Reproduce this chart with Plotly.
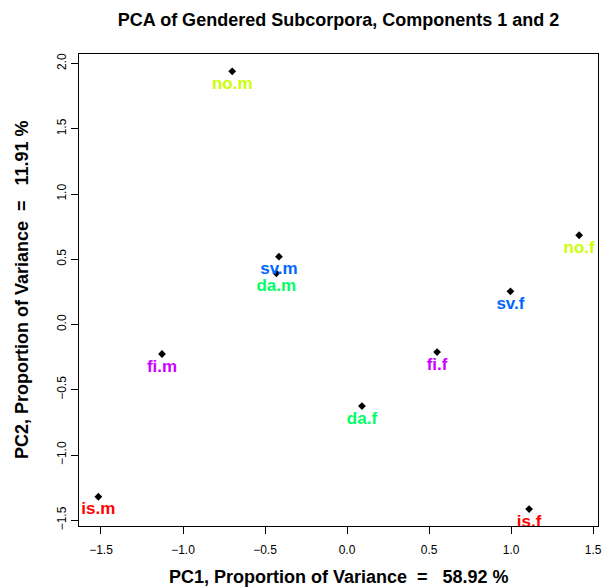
import plotly.graph_objects as go

labels = ["no.m", "no.f", "sv.m", "sv.f", "da.m", "da.f", "fi.m", "fi.f", "is.m", "is.f"]
pc1 = [-0.70, 1.415, -0.415, 0.996, -0.431, 0.091, -1.128, 0.549, -1.516, 1.110]
pc2 = [1.94, 0.684, 0.52, 0.254, 0.392, -0.625, -0.226, -0.211, -1.320, -1.414]
colors = ["#CCFF00", "#CCFF00", "#0066FF", "#0066FF", "#00FF66", "#00FF66",
          "#CC00FF", "#CC00FF", "#FF0000", "#FF0000"]
x_ticks = [-1.5, -1.0, -0.5, 0.0, 0.5, 1.0, 1.5]
y_ticks = [-1.5, -1.0, -0.5, 0.0, 0.5, 1.0, 1.5, 2.0]

W, H = 602, 588
L, R, T, B = 79, 4, 54, 62
PW, PH = W - L - R, H - T - B
font_family = "Liberation Sans, Arial, sans-serif"
NB = "\u00a0"


def tick_text(v):
    return f"{v:.1f}".replace("-", "\u2212")


fig = go.Figure()
fig.add_trace(go.Scatter(
    x=pc1, y=pc2, mode="markers+text", text=labels,
    textposition="bottom center",
    textfont=dict(family=font_family, size=17, color=colors, weight="bold"),
    marker=dict(symbol="diamond", size=6, color="black", line=dict(width=0)),
    cliponaxis=True, showlegend=False, hoverinfo="skip",
))

plot_cx = (L + (W - R)) / 2 / W

fig.update_layout(
    width=W, height=H,
    margin=dict(l=L, r=R, t=T, b=B, autoexpand=False),
    paper_bgcolor="white", plot_bgcolor="white",
    title=dict(text="<b>PCA of Gendered Subcorpora, Components 1 and 2</b>",
               x=plot_cx, xanchor="center", y=1 - 20 / H, yanchor="middle",
               font=dict(family=font_family, size=18, color="black")),
    font=dict(family=font_family, color="black"),
    annotations=[
        dict(text=f"<b>PC1, Proportion of Variance{NB}{NB}={NB}{NB}{NB}58.92 %</b>",
             xref="paper", yref="paper", x=0.5, y=(H - B - 577) / PH,
             xanchor="center", yanchor="middle", showarrow=False,
             font=dict(family=font_family, size=18, color="black")),
        dict(text=f"<b>PC2, Proportion of Variance{NB}{NB}={NB}{NB}{NB}11.91 %</b>",
             xref="paper", yref="paper", x=(22 - L) / PW, y=0.5,
             xanchor="center", yanchor="middle", showarrow=False, textangle=-90,
             font=dict(family=font_family, size=18, color="black")),
    ],
)
fig.update_xaxes(
    range=[-1.634, 1.530], tickvals=x_ticks, ticktext=[tick_text(v) for v in x_ticks],
    ticks="outside", ticklen=7, tickcolor="black", tickwidth=1,
    showline=True, linecolor="black", linewidth=1, mirror=True,
    showgrid=False, zeroline=False, automargin=False, ticklabelstandoff=6,
    tickfont=dict(size=12, color="black"),
)
fig.update_yaxes(
    range=[-1.544, 2.073], tickvals=y_ticks, ticktext=[tick_text(v) for v in y_ticks],
    ticks="outside", ticklen=7, tickcolor="black", tickwidth=1, tickangle=-90,
    showline=True, linecolor="black", linewidth=1, mirror=True,
    showgrid=False, zeroline=False, automargin=False,
    tickfont=dict(size=12, color="black"),
)

fig.write_html("out.html", config={"displayModeBar": False},
               post_script="document.body.style.margin='0';")
